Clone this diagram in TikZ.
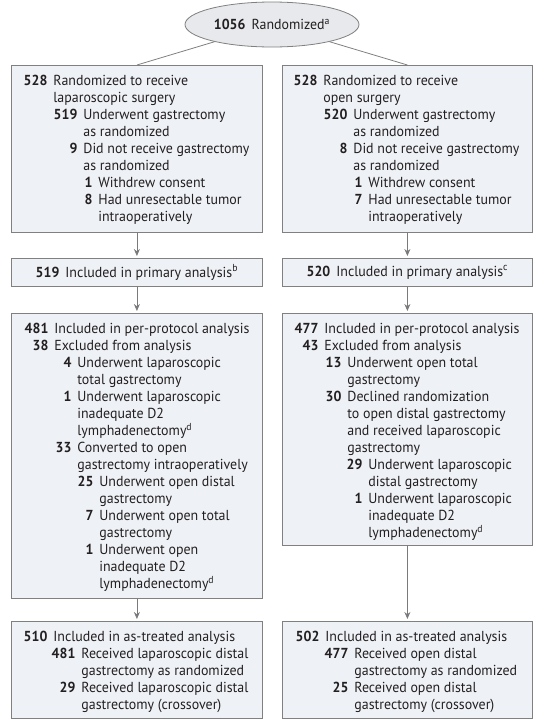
\documentclass[tikz,border=0pt]{standalone}
\usepackage{fontspec}
\setmainfont{PT Sans}[FakeStretch=0.96]
\usetikzlibrary{arrows.meta,shapes.geometric}
\definecolor{boxfill}{HTML}{EEF1F5}
\definecolor{ovalfill}{HTML}{E7E9EC}
\definecolor{boxline}{HTML}{808080}
\definecolor{arrowgray}{HTML}{7A7A7A}
\definecolor{ink}{HTML}{231F20}

\newlength{\firstrise}
% one counted line: #1 text indent, #2 count, #3 wording
\newcommand{\entry}[3]{\par\noindent\hangindent=#1\hangafter=1
  \makebox[#1][r]{\rule{0pt}{\firstrise}\textbf{#2}\hspace{6pt}}#3\par\global\firstrise=0pt}
\newcommand{\flowbody}[3]{\parbox[c][#1][t]{#2}{\raggedright\fontsize{14.5}{17}\selectfont\global\firstrise=20pt #3}}

\begin{document}
\begin{tikzpicture}[x=1pt,y=-1pt,font=\fontsize{14.5}{17}\selectfont,text=ink,
  flow/.style={draw=boxline,fill=boxfill,inner sep=0pt,anchor=north west,line width=0.8pt},
  link/.style={draw=boxline,line width=0.8pt},
  flowarrow/.style={link,draw=arrowgray,-{Stealth[length=7pt,width=6pt]},shorten >=2pt}]
\useasboundingbox (0,0) rectangle (545,726);
\node[ellipse,draw=boxline,fill=ovalfill,line width=0.8pt,minimum width=174pt,minimum height=45pt,inner sep=0pt] (rand) at (272,24.5) {\textbf{1056}\hspace{6pt}Randomized\textsuperscript{a}};
% laparoscopic arm
\node[flow] (lap) at (11,65) {\flowbody{167pt}{251pt}{%
  \entry{42pt}{528}{Randomized to receive\newline laparoscopic surgery}
  \entry{72pt}{519}{Underwent gastrectomy\newline as randomized}
  \entry{72pt}{9}{Did not receive gastrectomy\newline as randomized}
  \entry{87pt}{1}{Withdrew consent}
  \entry{87pt}{8}{Had unresectable tumor\newline intraoperatively}}};
\node[flow,minimum width=251pt,minimum height=28pt] (lapprim) at (11,258) {\textbf{519}\hspace{6pt}Included in primary analysis\textsuperscript{b}};
\node[flow] (lapprot) at (11,313) {\flowbody{285pt}{251pt}{%
  \entry{43pt}{481}{Included in per-protocol analysis}
  \entry{43pt}{38}{Excluded from analysis}
  \entry{66pt}{4}{Underwent laparoscopic\newline total gastrectomy}
  \entry{66pt}{1}{Underwent laparoscopic\newline inadequate D2\newline lymphadenectomy\textsuperscript{d}}
  \entry{66pt}{33}{Converted to open\newline gastrectomy intraoperatively}
  \entry{88pt}{25}{Underwent open distal\newline gastrectomy}
  \entry{88pt}{7}{Underwent open total\newline gastrectomy}
  \entry{88pt}{1}{Underwent open\newline inadequate D2\newline lymphadenectomy\textsuperscript{d}}}};
\node[flow] (laptreat) at (11,621) {\flowbody{97pt}{251pt}{%
  \entry{42pt}{510}{Included in as-treated analysis}
  \entry{70pt}{481}{Received laparoscopic distal\newline gastrectomy as randomized}
  \entry{70pt}{29}{Received laparoscopic distal\newline gastrectomy (crossover)}}};
% open arm
\node[flow] (open) at (282,65) {\flowbody{167pt}{250pt}{%
  \entry{41pt}{528}{Randomized to receive\newline open surgery}
  \entry{71pt}{520}{Underwent gastrectomy\newline as randomized}
  \entry{71pt}{8}{Did not receive gastrectomy\newline as randomized}
  \entry{86pt}{1}{Withdrew consent}
  \entry{86pt}{7}{Had unresectable tumor\newline intraoperatively}}};
\node[flow,minimum width=250pt,minimum height=28pt] (openprim) at (282,258) {\textbf{520}\hspace{6pt}Included in primary analysis\textsuperscript{c}};
\node[flow] (openprot) at (282,313) {\flowbody{232pt}{250pt}{%
  \entry{42pt}{477}{Included in per-protocol analysis}
  \entry{42pt}{43}{Excluded from analysis}
  \entry{65pt}{13}{Underwent open total\newline gastrectomy}
  \entry{65pt}{30}{Declined randomization\newline to open distal gastrectomy\newline and received laparoscopic\newline gastrectomy}
  \entry{86pt}{29}{Underwent laparoscopic\newline distal gastrectomy}
  \entry{86pt}{1}{Underwent laparoscopic\newline inadequate D2\newline lymphadenectomy\textsuperscript{d}}}};
\node[flow] (opentreat) at (282,621) {\flowbody{97pt}{250pt}{%
  \entry{43pt}{502}{Included in as-treated analysis}
  \entry{72pt}{477}{Received open distal\newline gastrectomy as randomized}
  \entry{72pt}{25}{Received open distal\newline gastrectomy (crossover)}}};
% connectors
\draw[link] (rand) -- (lap.north);
\draw[link] (rand) -- (open.north);
\draw[flowarrow] (lap) -- (lapprim);
\draw[flowarrow] (lapprim) -- (lapprot);
\draw[flowarrow] (lapprot) -- (laptreat);
\draw[flowarrow] (open) -- (openprim);
\draw[flowarrow] (openprim) -- (openprot);
\draw[flowarrow] (openprot) -- (opentreat);
\end{tikzpicture}
\end{document}
